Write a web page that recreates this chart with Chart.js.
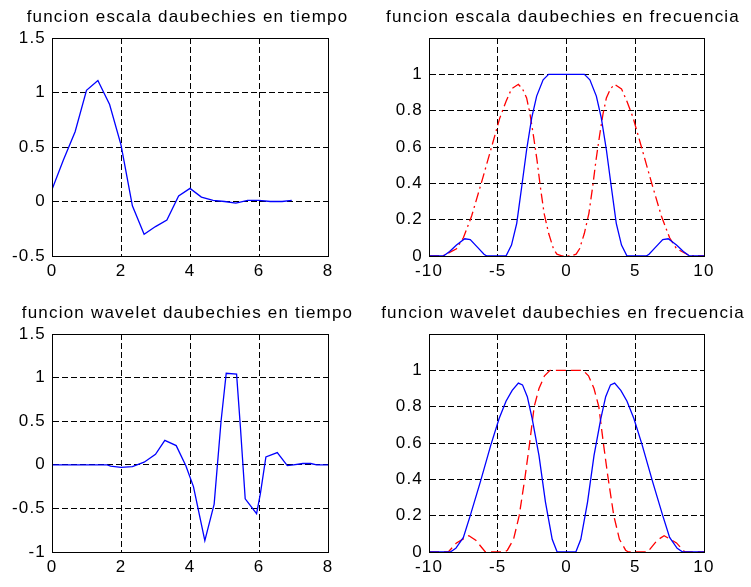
<!DOCTYPE html>
<html>
<head>
<meta charset="utf-8">
<script src="https://cdn.jsdelivr.net/npm/chart.js@4.4.1/dist/chart.umd.min.js"></script>
<style>
  body { margin: 0; background: #fff; }
  #wrap { position: relative; width: 751px; height: 587px; }
  canvas { position: absolute; }
</style>
</head>
<body>
<div id="wrap">
  <canvas id="c1" width="375" height="290" style="left:0;top:0"></canvas>
  <canvas id="c2" width="376" height="290" style="left:375px;top:0"></canvas>
  <canvas id="c3" width="375" height="291" style="left:0;top:296px"></canvas>
  <canvas id="c4" width="376" height="291" style="left:375px;top:296px"></canvas>
</div>
<script>
// tick labels
const timeTicks = [0, 2, 4, 6, 8];
const scaleTimeTicks = [-0.5, 0, 0.5, 1, 1.5];
const waveTimeTicks = [-1, -0.5, 0, 0.5, 1, 1.5];
const freqTicks = [-10, -5, 0, 5, 10];
const magTicks = [0, 0.2, 0.4, 0.6, 0.8, 1];

// funcion escala en tiempo
const scaleT = [0, 0.33, 0.67, 1, 1.33, 1.67, 2, 2.33, 2.67, 3, 3.33, 3.67, 4, 4.33, 4.67, 5, 5.33, 5.67, 6, 6.33, 6.67, 6.95];
const scaleV = [0.11, 0.38, 0.64, 1.02, 1.11, 0.89, 0.52, -0.04, -0.30, -0.23, -0.17, 0.05, 0.12, 0.04, 0.01, 0, -0.015, 0.01, 0.01, 0, 0, 0.01];

// funcion wavelet en tiempo
const waveT = [0, 1.6, 1.7, 2, 2.33, 2.67, 3, 3.27, 3.6, 3.88, 4.1, 4.43, 4.7, 4.9, 5.05, 5.35, 5.46, 5.6, 5.93, 6.04, 6.2, 6.53, 6.82, 7, 7.27, 7.5, 7.67, 8];
const waveV = [0, 0, -0.015, -0.03, -0.02, 0.03, 0.12, 0.28, 0.22, -0.01, -0.25, -0.87, -0.45, 0.5, 1.05, 1.04, 0.44, -0.39, -0.56, -0.33, 0.09, 0.14, -0.01, 0, 0.015, 0.015, 0, 0];

// escala en frecuencia: azul |phi|, rojo |psi|
const phiW = [-10, -8.95, -8.5, -8, -7.4, -7, -6.5, -6, -5.8, -4.4, -4, -3.62, -3.26, -2.9, -2.53, -2.17, -1.7, -1.3, 0, 1.3, 1.7, 2.17, 2.53, 2.9, 3.26, 3.62, 4, 4.4, 5.8, 6, 6.5, 7, 7.4, 8, 8.5, 8.95, 10];
const phiV = [0, 0, 0.025, 0.06, 0.095, 0.09, 0.05, 0.01, 0, 0, 0.06, 0.18, 0.38, 0.585, 0.76, 0.88, 0.97, 1, 1, 1, 0.97, 0.88, 0.76, 0.585, 0.38, 0.18, 0.06, 0, 0, 0.01, 0.05, 0.09, 0.095, 0.06, 0.025, 0, 0];
const psiW = [-10, -9, -8, -7.5, -6.9, -6.2, -5.45, -4.85, -4.4, -4, -3.5, -3.2, -2.9, -2.65, -2.4, -2.15, -1.9, -1.63, -1.3, -0.95, -0.7, -0.3, 0, 0.3, 0.7, 0.95, 1.3, 1.63, 1.9, 2.15, 2.4, 2.65, 2.9, 3.2, 3.5, 4, 4.4, 4.85, 5.45, 6.2, 6.9, 7.5, 8, 9, 10];
const psiV = [0, 0, 0.04, 0.1, 0.22, 0.4, 0.6, 0.76, 0.85, 0.92, 0.945, 0.92, 0.87, 0.78, 0.66, 0.53, 0.38, 0.235, 0.125, 0.04, 0.01, 0, 0, 0, 0.01, 0.04, 0.125, 0.235, 0.38, 0.53, 0.66, 0.78, 0.87, 0.92, 0.945, 0.92, 0.85, 0.76, 0.6, 0.4, 0.22, 0.1, 0.04, 0, 0];

// wavelet en frecuencia: azul |psi|, rojo |phi|
const psi2W = [-10, -8.45, -8.05, -7.5, -7, -6.25, -5.5, -4.9, -4.4, -3.95, -3.5, -3.2, -2.85, -2.5, -2, -1.53, -1.04, -0.68, 0, 0.68, 1.04, 1.53, 2, 2.5, 2.85, 3.2, 3.5, 3.95, 4.4, 4.9, 5.5, 6.25, 7, 7.5, 8.05, 8.45, 10];
const psi2V = [0, 0, 0.02, 0.08, 0.2, 0.39, 0.59, 0.735, 0.83, 0.89, 0.93, 0.92, 0.855, 0.735, 0.53, 0.275, 0.07, 0, 0, 0, 0.07, 0.275, 0.53, 0.735, 0.855, 0.92, 0.93, 0.89, 0.83, 0.735, 0.59, 0.39, 0.2, 0.08, 0.02, 0, 0];
const phi2W = [-10, -8.6, -8, -7.1, -6.6, -5.9, -4.5, -4.3, -3.85, -3.44, -3.0, -2.68, -2.35, -2, -1.6, -1.2, 0, 1.2, 1.6, 2, 2.35, 2.68, 3.0, 3.44, 3.85, 4.3, 4.5, 5.9, 6.6, 7.1, 8, 8.6, 10];
const phi2V = [0, 0, 0.05, 0.09, 0.065, 0, 0, 0.01, 0.07, 0.2, 0.42, 0.6, 0.8, 0.9, 0.97, 1, 1, 1, 0.97, 0.9, 0.8, 0.6, 0.42, 0.2, 0.07, 0.01, 0, 0, 0.065, 0.09, 0.05, 0, 0];

const FONT = "'Liberation Sans', Arial, sans-serif";
const BLUE = '#0000ff';
const RED = '#ff0000';
const RIGHT_GAP = 47; // espacio a la derecha del eje

const pts = (xs, ys) => xs.map((x, i) => ({ x: x, y: ys[i] }));

const framePlugin = {
  id: 'frame',
  beforeUpdate(chart) { chart.ctx.letterSpacing = '1.2px'; },
  beforeDraw(chart) { chart.ctx.letterSpacing = '1.2px'; },
  afterDraw(chart) {
    const { ctx, chartArea: a } = chart;
    ctx.save();
    ctx.strokeStyle = '#000';
    ctx.lineWidth = 1;
    ctx.strokeRect(Math.round(a.left) + 0.5, Math.round(a.top) + 0.5,
      Math.round(a.right - a.left), Math.round(a.bottom - a.top));
    ctx.restore();
  }
};

function line(data, color, dash) {
  return {
    data: data,
    borderColor: color,
    borderWidth: 1.3,
    borderDash: dash || [],
    pointRadius: 0,
    showLine: true,
    tension: 0,
    fill: false
  };
}

function axis(min, max, ticks, fit) {
  return {
    type: 'linear',
    min: min,
    max: max,
    afterBuildTicks: s => { s.ticks = ticks.map(v => ({ value: v })); },
    afterFit: fit,
    grid: { color: '#000', lineWidth: 1, drawTicks: false },
    border: { display: true, color: '#000', width: 1, dash: [6, 3] },
    ticks: {
      color: '#000',
      font: { family: FONT, size: 17 },
      callback: v => String(v)
    }
  };
}

function makeChart(id, title, datasets, xr, xTicks, yr, yTicks, yWidth, xHeight) {
  const x = axis(xr[0], xr[1], xTicks, s => { s.height = xHeight; s.paddingRight = RIGHT_GAP; });
  x.ticks.padding = 5;
  x.ticks.maxRotation = 0;
  const y = axis(yr[0], yr[1], yTicks, s => { s.width = yWidth; });
  y.ticks.padding = 6;
  return new Chart(document.getElementById(id), {
    type: 'scatter',
    data: { datasets: datasets },
    options: {
      responsive: false,
      animation: false,
      layout: { padding: 0 },
      scales: { x: x, y: y },
      plugins: {
        legend: { display: false },
        tooltip: { enabled: false },
        title: {
          display: true,
          text: title,
          color: '#000',
          font: { family: FONT, size: 17, weight: 'normal' },
          padding: { top: 7, bottom: 10.6 }
        }
      }
    },
    plugins: [framePlugin]
  });
}

makeChart('c1', 'funcion escala daubechies en tiempo',
  [line(pts(scaleT, scaleV), BLUE)],
  [0, 8], timeTicks, [-0.5, 1.5], scaleTimeTicks, 52, 34);

makeChart('c2', 'funcion escala daubechies en frecuencia',
  [line(pts(phiW, phiV), BLUE), line(pts(psiW, psiV), RED, [10, 4, 2, 4])],
  [-10, 10], freqTicks, [0, 1.2], magTicks, 54, 34);

makeChart('c3', 'funcion wavelet daubechies en tiempo',
  [line(pts(waveT, waveV), BLUE)],
  [0, 8], timeTicks, [-1, 1.5], waveTimeTicks, 52, 35);

makeChart('c4', 'funcion wavelet daubechies en frecuencia',
  [line(pts(psi2W, psi2V), BLUE), line(pts(phi2W, phi2V), RED, [10, 5])],
  [-10, 10], freqTicks, [0, 1.2], magTicks, 54, 35);
</script>
</body>
</html>
